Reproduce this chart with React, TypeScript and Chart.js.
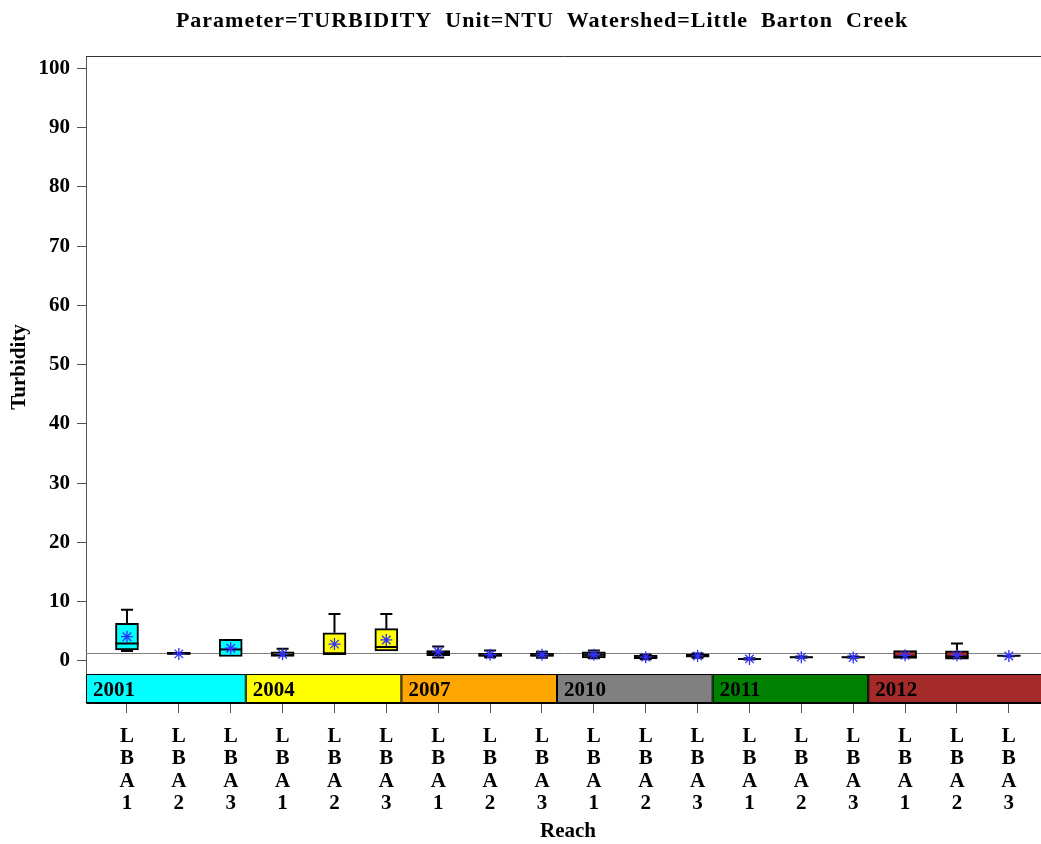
import React, { useEffect, useRef } from 'react';
import { Chart, registerables } from 'chart.js';

Chart.register(...registerables);

const titleText = 'Parameter=TURBIDITY  Unit=NTU  Watershed=Little  Barton  Creek';
const yTitle = 'Turbidity';
const xTitle = 'Reach';

const years = ['2001', '2004', '2007', '2010', '2011', '2012'];
const yearColors = ['#00FFFF', '#FFFF00', '#FFA500', '#808080', '#008000', '#A52A2A'];
const reaches = ['LBA1', 'LBA2', 'LBA3'];
const categoryLabels = years.flatMap(() => reaches);

const whiskerLow = [1.7, 1.1, 0.75, 0.75, 1.05, 1.7, 0.6, 0.65, 0.55, 0.45, 0.3, 0.55, 0.25, 0.55, 0.55, 0.45, 0.3, 0.8];
const q1 = [1.85, 1.1, 0.75, 0.75, 1.05, 1.7, 0.9, 0.75, 0.75, 0.5, 0.4, 0.65, 0.3, 0.6, 0.6, 0.45, 0.3, 0.85];
const median = [2.95, 1.25, 1.95, 1.05, 1.3, 2.35, 1.35, 0.95, 0.95, 1.05, 0.65, 0.85, 0.35, 0.65, 0.65, 0.75, 0.75, 0.9];
const q3 = [6.35, 1.45, 3.65, 1.55, 4.75, 5.45, 1.75, 1.3, 1.3, 1.55, 0.95, 1.15, 0.4, 0.7, 0.7, 1.75, 1.7, 0.95];
const whiskerHigh = [8.65, 1.45, 3.65, 2.05, 7.95, 7.95, 2.45, 1.75, 1.55, 1.75, 1.05, 1.25, 0.45, 0.75, 0.75, 1.75, 2.95, 0.95];
const means = [4.1, 1.2, 2.15, 1.15, 2.85, 3.55, 1.55, 1.05, 1.05, 1.05, 0.65, 0.85, 0.35, 0.65, 0.6, 0.95, 0.95, 0.85];

const referenceValue = 1.3;
const yTicks = [0, 10, 20, 30, 40, 50, 60, 70, 80, 90, 100];
const bandTopValue = -2.2;

const FONT = '"Liberation Serif", "DejaVu Serif", serif';

const extras = {
  id: 'boxExtras',
  beforeDatasetsDraw(chart: any) {
    const { ctx, chartArea: a, scales } = chart;
    const x = scales.x;
    const y = scales.y;
    ctx.save();
    const ry = Math.round(y.getPixelForValue(referenceValue)) + 0.5;
    ctx.strokeStyle = '#808080';
    ctx.lineWidth = 1;
    ctx.beginPath();
    ctx.moveTo(a.left, ry);
    ctx.lineTo(a.right, ry);
    ctx.stroke();
    const bt = y.getPixelForValue(bandTopValue);
    const bb = a.bottom;
    years.forEach((yr, g) => {
      const x0 = g === 0 ? a.left : x.getPixelForValue(g * 3 - 0.71);
      const x1 = g === years.length - 1 ? a.right + 2 : x.getPixelForValue((g + 1) * 3 - 0.71);
      ctx.fillStyle = yearColors[g];
      ctx.fillRect(x0, bt, x1 - x0, bb - bt);
      ctx.strokeStyle = '#000';
      ctx.lineWidth = 1;
      ctx.strokeRect(x0 + 0.5, bt + 0.5, x1 - x0 - 1, bb - bt - 1);
      ctx.fillStyle = '#000';
      ctx.font = `bold 21px ${FONT}`;
      ctx.textAlign = 'left';
      ctx.textBaseline = 'middle';
      ctx.fillText(yr, x0 + 7, (bt + bb) / 2 + 2);
    });
    ctx.strokeStyle = '#333';
    ctx.lineWidth = 1;
    ctx.beginPath();
    ctx.moveTo(a.left, a.top + 0.5);
    ctx.lineTo(a.right, a.top + 0.5);
    ctx.stroke();
    ctx.restore();
  },
  afterDatasetDraw(chart: any, args: any) {
    if (args.index !== 1) return;
    const { ctx, scales } = chart;
    const x = scales.x;
    const y = scales.y;
    ctx.save();
    ctx.strokeStyle = '#000';
    ctx.lineWidth = 2;
    categoryLabels.forEach((_, i) => {
      const cx = x.getPixelForValue(i);
      const half = 11.5;
      const cap = 6;
      const yq3 = y.getPixelForValue(q3[i]);
      const yq1 = y.getPixelForValue(q1[i]);
      const yh = y.getPixelForValue(whiskerHigh[i]);
      const yl = y.getPixelForValue(whiskerLow[i]);
      ctx.beginPath();
      if (whiskerHigh[i] > q3[i]) {
        ctx.moveTo(cx, yq3);
        ctx.lineTo(cx, yh);
        ctx.moveTo(cx - cap, yh);
        ctx.lineTo(cx + cap, yh);
      }
      if (whiskerLow[i] < q1[i]) {
        ctx.moveTo(cx, yq1);
        ctx.lineTo(cx, yl);
        ctx.moveTo(cx - cap, yl);
        ctx.lineTo(cx + cap, yl);
      }
      const ym = y.getPixelForValue(median[i]);
      ctx.moveTo(cx - half, ym);
      ctx.lineTo(cx + half, ym);
      ctx.stroke();
    });
    ctx.restore();
  },
  afterDraw(chart: any) {
    const { ctx } = chart;
    ctx.save();
    ctx.fillStyle = '#000';
    ctx.textAlign = 'center';
    ctx.textBaseline = 'middle';
    ctx.font = `bold 22px ${FONT}`;
    try {
      (ctx as any).letterSpacing = '1px';
    } catch (e) {}
    ctx.fillText(titleText, 542, 21);
    try {
      (ctx as any).letterSpacing = '0px';
    } catch (e) {}
    ctx.font = `bold 21px ${FONT}`;
    ctx.fillText(xTitle, 568, 832);
    ctx.translate(20, 367);
    ctx.rotate(-Math.PI / 2);
    ctx.fillText(yTitle, 0, 0);
    ctx.restore();
  },
};

export default function App() {
  const ref = useRef<HTMLCanvasElement>(null);
  useEffect(() => {
    document.body.style.margin = '0';
    const canvas = ref.current!;
    const chart = new Chart(canvas, {
      type: 'bar',
      data: {
        datasets: [
          {
            type: 'line',
            data: categoryLabels.map((_, i) => ({ x: i, y: means[i] })),
            showLine: false,
            pointStyle: 'star',
            pointRadius: 6,
            pointBorderColor: '#3030ff',
            pointBackgroundColor: '#3030ff',
            pointBorderWidth: 1.3,
          } as any,
          {
            type: 'bar',
            data: categoryLabels.map((_, i) => ({ x: i, y: [q1[i], q3[i]] })),
            backgroundColor: categoryLabels.map((_, i) => yearColors[Math.floor(i / 3)]),
            borderColor: '#000',
            borderWidth: 2,
            borderSkipped: false,
            barThickness: 23,
          } as any,
        ],
      },
      options: {
        animation: false,
        responsive: false,
        devicePixelRatio: 1,
        events: [],
        layout: { autoPadding: false, padding: { top: 56, left: 0, right: 0, bottom: 0 } },
        plugins: { legend: { display: false }, tooltip: { enabled: false }, title: { display: false } },
        scales: {
          x: {
            type: 'linear',
            offset: false,
            min: -0.79,
            max: 17.62,
            afterBuildTicks: (s: any) => {
              s.ticks = categoryLabels.map((_, i) => ({ value: i }));
            },
            afterFit: (s: any) => {
              s.height = 141;
              s.paddingLeft = 0;
              s.paddingRight = 0;
            },
            ticks: {
              autoSkip: false,
              maxRotation: 0,
              color: '#000',
              padding: 13,
              font: { family: FONT, size: 21, weight: 'bold', lineHeight: 1.05 },
              callback: (v: any) => {
                const lbl = categoryLabels[Math.round(v)];
                return lbl ? lbl.split('') : '';
              },
            },
            grid: { offset: false, drawOnChartArea: false, drawTicks: true, tickLength: 10, color: '#555' },
            border: { display: true, color: '#000' },
          },
          y: {
            type: 'linear',
            min: -7.09,
            max: 102.1,
            afterBuildTicks: (s: any) => {
              s.ticks = yTicks.map((v) => ({ value: v }));
            },
            afterFit: (s: any) => {
              s.width = 86;
            },
            ticks: {
              color: '#000',
              padding: 7,
              font: { family: FONT, size: 21, weight: 'bold' },
            },
            grid: { drawOnChartArea: false, drawTicks: true, tickLength: 9, color: '#555' },
            border: { display: true, color: '#555' },
          },
        },
      } as any,
      plugins: [extras],
    });
    return () => chart.destroy();
  }, []);
  return (
    <div style={{ position: 'absolute', left: 0, top: 0, width: 1041, height: 844 }}>
      <canvas ref={ref} width={1041} height={844} />
    </div>
  );
}
